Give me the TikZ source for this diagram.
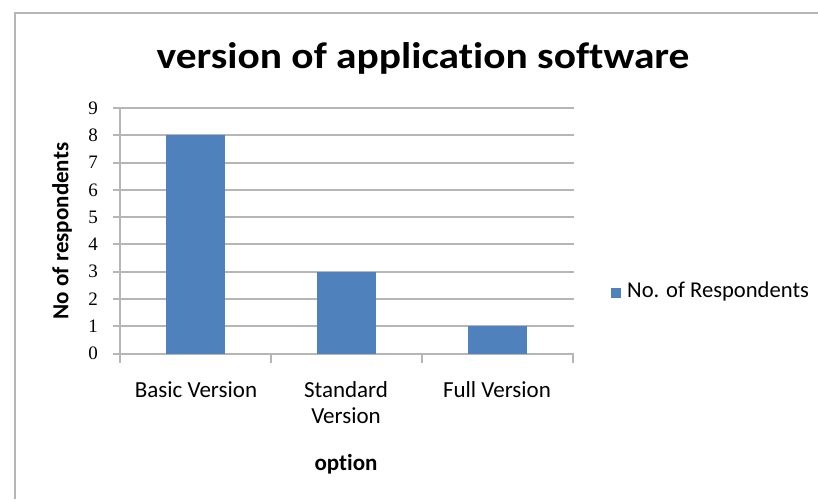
\documentclass[tikz,border=0pt]{standalone}
\usepackage{fontspec}
\setmainfont[Ligatures=NoCommon]{Carlito}
\newfontfamily\numfont{Liberation Serif}
\definecolor{barblue}{HTML}{4F81BD}
\definecolor{gridgray}{RGB}{182,182,182}
\tikzset{
  gridline/.style={gridgray,line width=2pt},
  barrect/.style={fill=barblue,draw=none},
  catlabel/.style={anchor=base,align=center,font=\fontsize{23}{27}\selectfont},
}
\begin{document}
\begin{tikzpicture}[x=1pt,y=-1pt]
  \useasboundingbox (0,0) rectangle (818,499);
  % outer frame (only top and left edges show)
  \draw[gridline] (14.5,499) -- (14.5,12.5) -- (818,12.5);
  \node[anchor=base,xscale=1.12] (title) at (423,68)
    {\fontsize{37}{42}\selectfont\bfseries version of application software};

  % horizontal grid and value labels
  \foreach \v in {0,...,9} {
    \draw[gridline] (113,{353.5-27.27*\v}) -- (574,{353.5-27.27*\v});
    \node[anchor=east,inner sep=1pt] (val\v) at (99,{353.5-27.27*\v})
      {\numfont\fontsize{19}{19}\selectfont \v};
  }
  % axis and category ticks
  \draw[gridline] (120,363) -- (120,107.5);
  \foreach \x in {271,422,573}
    \draw[gridline] (\x,353.5) -- (\x,363);

  % bars
  \fill[barrect] (166,353.5) rectangle (225,{353.5-27.27*8});
  \fill[barrect] (317,353.5) rectangle (376,{353.5-27.27*3});
  \fill[barrect] (468,353.5) rectangle (527,{353.5-27.27*1});

  % category labels
  \node[catlabel] (basic) at (196,397) {Basic Version};
  \node[catlabel] (standard) at (346,397) {Standard};
  \node[catlabel] (standard2) at (346,423) {Version};
  \node[catlabel] (full) at (497,397) {Full Version};
  \node[catlabel,font=\fontsize{23}{27}\selectfont\bfseries] (xlabel) at (346,470) {option};
  \node[rotate=90,font=\fontsize{23}{27}\selectfont\bfseries] (ylabel) at (62,231) {No of respondents};

  % legend
  \fill[barrect] (611,288) rectangle (621,298) coordinate (key);
  \node[anchor=base west,inner sep=0pt,font=\fontsize{22.6}{27}\selectfont] (keytext) at (627,297) {No. of Respondents};
\end{tikzpicture}
\end{document}
